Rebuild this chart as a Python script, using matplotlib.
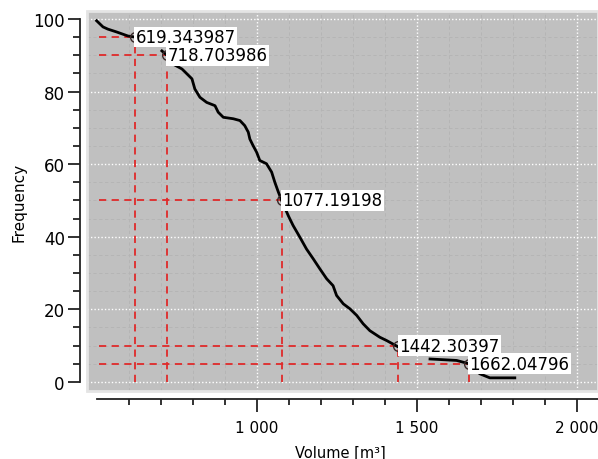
import numpy as np
import matplotlib.pyplot as plt
from matplotlib.ticker import MultipleLocator, FixedLocator, FuncFormatter
from matplotlib.patches import Rectangle

# exceedance curve (volume, frequency); NaN marks gaps in the line
volume = [499, 519, 534, 562, 597, 619.3, 634, np.nan,
          703, 718.7, 737, 766, 797, 806, 822, 843, 869, 879, 895, 926, 947,
          962, 973, 978, 988, 999, 1009, 1030, 1046, 1056, 1067, 1077.2,
          1098, 1113, 1134, 1155, 1176, 1197, 1218, 1238, 1249, 1270, 1291,
          1312, 1332, 1353, 1384, 1405, 1442.3, 1452, 1468, np.nan,
          1541, 1624, 1662.0, 1676, 1697, 1728, 1806]
freq = [99.5, 97.8, 97.2, 96.4, 95.3, 95, 93.1, np.nan,
        91.2, 90, 87.6, 86.2, 83.5, 80.7, 78.4, 77, 76.1, 74.3, 72.9, 72.5, 72,
        70.6, 68.8, 66.9, 65.1, 63.3, 61, 60.1, 57.8, 55, 52.3, 50,
        45.8, 43.1, 39.9, 36.6, 33.9, 31.1, 28.4, 26.5, 23.8, 21.5, 20.1,
        18.3, 16, 14.1, 12.3, 11.4, 9.6, 8.6, 7.7, np.nan,
        6.3, 5.9, 5, 3.6, 2.2, 1.1, 1.1]

# marked points
mark_vol = [619.343987, 718.703986, 1077.19198, 1442.30397, 1662.04796]
mark_freq = [95, 90, 50, 10, 5]
mark_text = ["619.343987", "718.703986", "1077.19198", "1442.30397", "1662.04796"]

x_major = [1000, 1500, 2000]
x_minor = [600, 700, 800, 900, 1100, 1200, 1300, 1400,
           1600, 1700, 1800, 1900]

fig = plt.figure(figsize=(5.98, 4.60), dpi=100)
ax = fig.add_axes([0.1455, 0.148, 0.8545, 0.826])
ax.set_facecolor('#c0c0c0')
ax.set_xlim(469, 2066)
ax.set_ylim(-2.5, 102.2)

# grids
ax.xaxis.set_major_locator(FixedLocator(x_major))
ax.xaxis.set_minor_locator(FixedLocator(x_minor))
ax.yaxis.set_major_locator(MultipleLocator(20))
ax.yaxis.set_minor_locator(MultipleLocator(5))
ax.grid(which='minor', color='#b4b4b4', linestyle=(0, (4, 3)), linewidth=0.6)
ax.grid(which='major', color='white', linestyle=(0, (1, 1.5)), linewidth=1.0)
ax.set_axisbelow(True)

# light frame around plot area
ax.add_patch(Rectangle((0, 0), 1, 1, transform=ax.transAxes, fill=False,
                       edgecolor='#e4e4e4', linewidth=2, clip_on=False, zorder=5))

# reference lines
x0 = 505
for v, f in zip(mark_vol, mark_freq):
    ax.plot([x0, v], [f, f], color='#e02a2a', linestyle=(0, (4, 3)), linewidth=1.3, zorder=2)
    ax.plot([v, v], [0, f], color='#e02a2a', linestyle=(0, (4, 3)), linewidth=1.3, zorder=2)

ax.plot(volume, freq, color='black', linewidth=2.0, zorder=3)
ax.plot(mark_vol, mark_freq, 'o', ms=7, mfc='none', mec='#3a2a2a', mew=1.0, zorder=4)

for v, f, t in zip(mark_vol, mark_freq, mark_text):
    ax.text(v + 2, f, t, fontsize=12, ha='left', va='center', zorder=6,
            bbox=dict(facecolor='white', edgecolor='none', pad=1.0))

# spines
for s in ['top', 'right']:
    ax.spines[s].set_visible(False)
ax.spines['left'].set_position(('outward', 5))
ax.spines['left'].set_bounds(0, 100)
ax.spines['bottom'].set_position(('outward', 6))
ax.spines['bottom'].set_bounds(500, 2066)
for s in ['left', 'bottom']:
    ax.spines[s].set_linewidth(1.3)
    ax.spines[s].set_color('#222222')

ax.tick_params(which='major', length=9, width=1.3, color='#222222', labelsize=12)
ax.tick_params(axis='x', which='major', labelsize=11)
ax.tick_params(axis='y', which='minor', length=5, width=1.3, color='#222222')
ax.tick_params(axis='x', which='minor', length=4, width=1.3, color='#222222')
ax.tick_params(axis='x', which='major', pad=6)
ax.tick_params(axis='y', which='major', pad=2)
ax.xaxis.set_major_formatter(FuncFormatter(lambda v, p: f"{v:,.0f}".replace(",", " ")))

ax.set_ylabel('Frequency', fontsize=11)
ax.set_xlabel('Volume [m³]', fontsize=10.5)
ax.yaxis.set_label_coords(-0.118, 0.5)
ax.xaxis.set_label_coords(0.495, -0.142)

plt.savefig('out.png', dpi=100)
